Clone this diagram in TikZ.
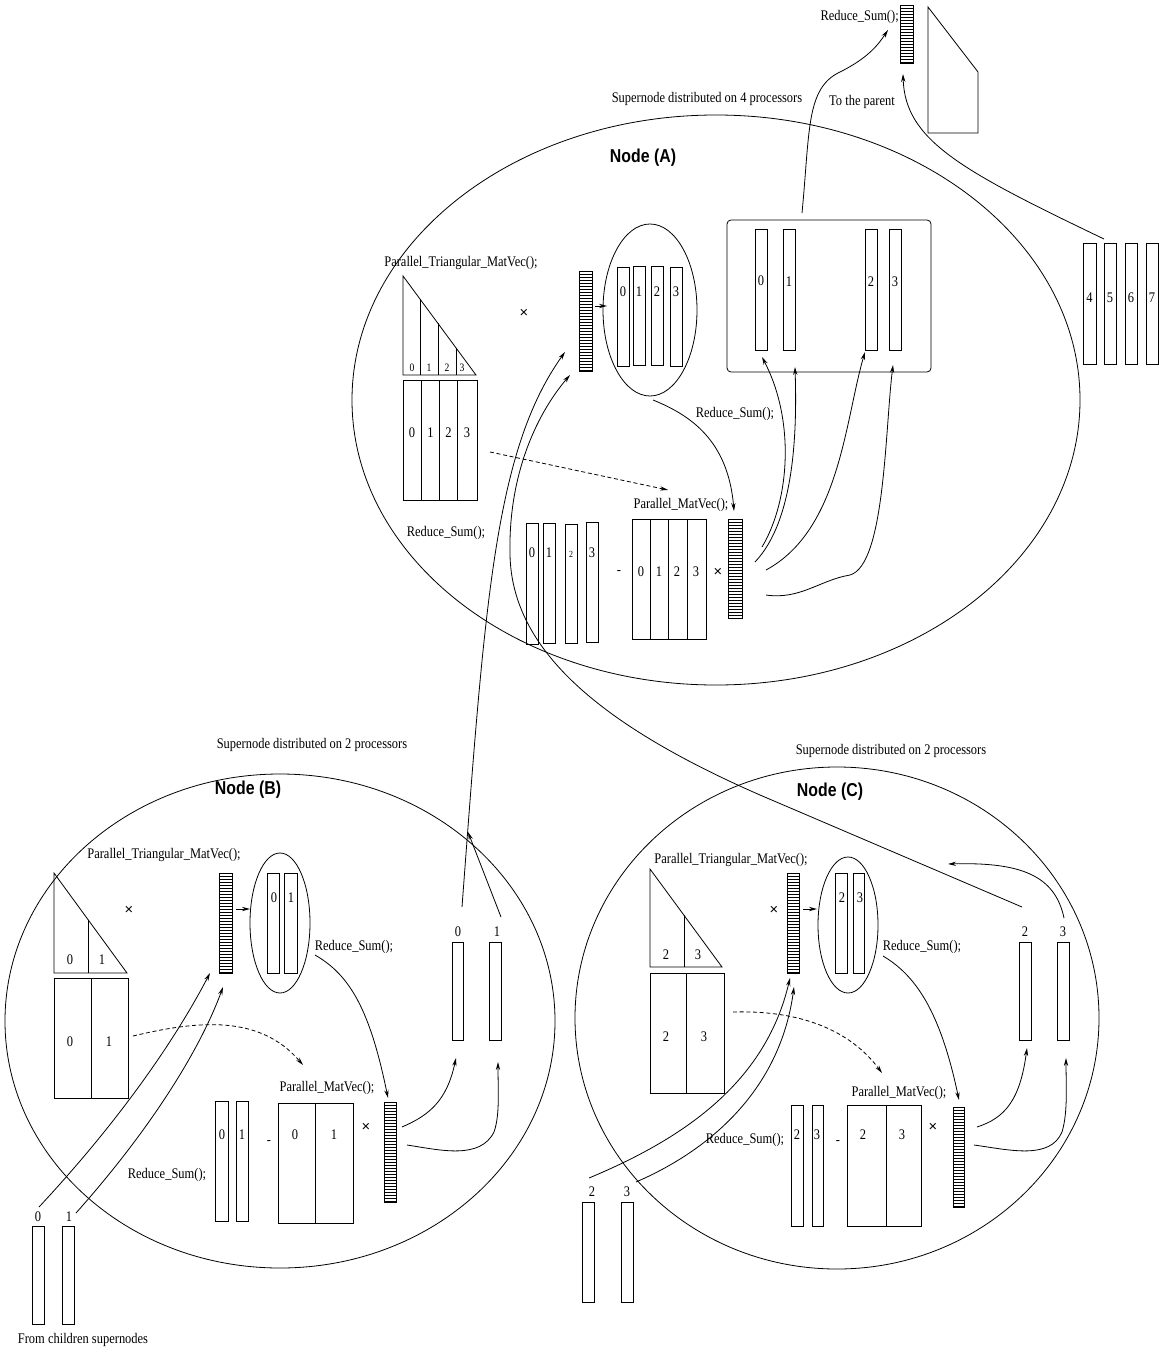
\documentclass[tikz,border=0pt]{standalone}
\usepackage{fontspec}
\setmainfont{Liberation Serif}[FakeStretch=0.85]
\newfontfamily\titlefont{Liberation Sans}[FakeStretch=0.85]
\newfontfamily\timesfont{Liberation Sans}
\usetikzlibrary{arrows.meta}
\tikzset{
  ln/.style={line width=0.6pt},
  arr/.style={ln, -{Stealth[length=6pt,width=3.2pt]}},
  dsh/.style={arr, dash pattern=on 3pt off 2pt},
  lbl/.style={font=\fontsize{11}{12}\selectfont, inner sep=0pt},
  slbl/.style={font=\fontsize{8.5}{9}\selectfont, inner sep=0pt},
  tlbl/.style={font=\fontsize{7}{8}\selectfont, inner sep=0pt},
  xlbl/.style={font=\timesfont\fontsize{11}{12}\selectfont, inner sep=0pt},
  ttl/.style={font=\titlefont\bfseries\fontsize{14}{16}\selectfont, inner sep=0pt},
}
\newcommand\hatchvec[4]{%
  \draw[ln] (#1,#2) rectangle (#3,#4);
  \pgfmathtruncatemacro\hvn{floor((#4-#2-1)/3)}%
  \foreach \k in {1,...,\hvn} {\draw[line width=0.4pt] (#1,#2+3*\k) -- (#3,#2+3*\k);}
}
\newcommand\plainvec[4]{\draw[ln] (#1,#2) rectangle (#3,#4);}
\begin{document}
\begin{tikzpicture}[x=0.75pt,y=-0.75pt]
\useasboundingbox (0,0) rectangle (1159,1352);

% ================= TOP (parent) =================
\node[lbl, anchor=east] (rsTop) at (899,17) {Reduce\_Sum();};
\hatchvec{900}{5}{913}{63}
\draw[ln] (928,7) -- (978,72) -- (978,133) -- (928,133) -- cycle;
\node[lbl] (supA) at (707,99) {Supernode distributed on 4 processors};
\node[lbl] (toPar) at (862,102) {To the parent};
\coordinate (boxTop) at (802,213);
\coordinate (parTipA) at (888,30);
\draw[arr] (boxTop) .. controls (810,130) and (806,88) .. (840,72) .. controls (868,58) and (878,45) .. (parTipA);
\coordinate (fourTop) at (1104,239);
\coordinate (parTipB) at (903,74);
\draw[arr] (fourTop) .. controls (960,170) and (905,140) .. (parTipB);

% ================= NODE A =================
\draw[ln] (716,400) ellipse [x radius=364, y radius=285];
\node[ttl] (nodeA) at (643,158) {Node (A)};
\node[lbl] (ptmA) at (461,263) {Parallel\_Triangular\_MatVec();};
\draw[ln] (403,276) -- (403,375) -- (476,375) -- cycle;
\foreach \xx in {420,438,456} {\draw[ln] (\xx,{276+(\xx-403)*1.356}) -- (\xx,375);}
\node[slbl] at (412,368) {0};
\node[slbl] at (429,368) {1};
\node[slbl] at (447,368) {2};
\node[slbl] at (462,368) {3};
\draw[ln] (403,380) rectangle (477,500);
\foreach \xx in {421.5,439.5,457.5} {\draw[ln] (\xx,380) -- (\xx,500);}
\node[lbl] at (412,433) {0};
\node[lbl] at (430.5,433) {1};
\node[lbl] at (448.5,433) {2};
\node[lbl] at (467,433) {3};
\node[xlbl] (xA1) at (524,313) {×};
\hatchvec{579}{271}{592}{371}
\coordinate (hA1) at (595,306);
\coordinate (eA1) at (607,306);
\draw[arr] (hA1) -- (eA1);
\draw[ln] (650,310) ellipse [x radius=47, y radius=86];
\plainvec{617}{267}{629}{366}
\plainvec{633}{266}{645}{365}
\plainvec{651}{266}{663}{365}
\plainvec{670}{267}{682}{366}
\node[lbl] at (623,292) {0};
\node[lbl] at (639,292) {1};
\node[lbl] at (657,292) {2};
\node[lbl] at (676,292) {3};
\node[lbl] (rsA1) at (735,414) {Reduce\_Sum();};
\coordinate (eAbot) at (653,400);
\coordinate (hA2top) at (734,511);
\draw[arr] (eAbot) .. controls (690,415) and (728,440) .. (hA2top);
\coordinate (dA1) at (490,452);
\coordinate (dA2) at (668,490);
\draw[dsh] (dA1) -- (dA2);
\node[lbl] (pmA) at (681,505) {Parallel\_MatVec();};
\draw[ln] (632,519) rectangle (706,639);
\foreach \xx in {650.5,668.5,687} {\draw[ln] (\xx,519) -- (\xx,639);}
\node[lbl] at (641,572) {0};
\node[lbl] at (659,572) {1};
\node[lbl] at (677,572) {2};
\node[lbl] at (696,572) {3};
\node[xlbl] (xA2) at (718,572) {×};
\hatchvec{728}{519}{742}{618}
\node[lbl] (mA) at (619,572) {-};
\plainvec{526}{523}{538}{644}
\plainvec{543}{523}{555}{643}
\plainvec{565}{524}{577}{643}
\plainvec{586}{522}{598}{642}
\node[lbl] at (532,553) {0};
\node[lbl] at (549,553) {1};
\node[tlbl] at (571,554) {2};
\node[lbl] at (592,553) {3};
\node[lbl] (rsA2) at (446,533) {Reduce\_Sum();};
% rounded box
\draw[ln, rounded corners=3pt] (727,220) rectangle (931,372);
\plainvec{755}{229}{767}{350}
\plainvec{783}{229}{795}{350}
\plainvec{865}{229}{877}{350}
\plainvec{889}{229}{901}{350}
\node[lbl] at (761,281) {0};
\node[lbl] at (789,282) {1};
\node[lbl] at (871,282) {2};
\node[lbl] at (895,282) {3};
% curves to box vectors
\coordinate (a1s) at (762,547);
\coordinate (a2s) at (755,562);
\coordinate (a3s) at (766,570);
\coordinate (a4s) at (766,595);
\coordinate (b1t) at (762,357);
\coordinate (b2t) at (795,367);
\coordinate (b3t) at (865,352);
\coordinate (b4t) at (893,365);
\draw[arr] (a1s) .. controls (790,500) and (795,420) .. (b1t);
\draw[arr] (a2s) .. controls (795,520) and (797,430) .. (b2t);
\draw[arr] (a3s) .. controls (840,530) and (845,420) .. (b3t);
\draw[arr] (a4s) .. controls (800,600) and (820,580) .. (850,575) .. controls (885,565) and (885,430) .. (b4t);
% vectors 4..7
\plainvec{1083}{243}{1096}{364}
\plainvec{1104}{243}{1116}{364}
\plainvec{1125}{243}{1137}{364}
\plainvec{1146}{243}{1158}{364}
\node[lbl] at (1089.5,298) {4};
\node[lbl] at (1110,298) {5};
\node[lbl] at (1131,298) {6};
\node[lbl] at (1152,298) {7};

% ================= long connectors B,C -> A =================
\coordinate (bZeroTop) at (462,907);
\coordinate (hA1tipB) at (565,352);
\draw[arr] (bZeroTop) .. controls (485,600) and (495,450) .. (hA1tipB);
\coordinate (bOneTop) at (501,917);
\coordinate (bOneTip) at (468,832);
\draw[arr] (bOneTop) -- (bOneTip);
\coordinate (cTwoTop) at (1022,907);
\coordinate (hA1tipC) at (570,375);
\draw[arr] (cTwoTop) -- (760,795) .. controls (600,725) and (512,650) .. (510,555) .. controls (508,470) and (540,410) .. (hA1tipC);
\coordinate (cThreeTop) at (1064,918);
\coordinate (cThreeTip) at (948,864);
\draw[arr] (cThreeTop) .. controls (1055,875) and (1020,862) .. (cThreeTip);

% ================= NODE B =================
\draw[ln] (280,1021) ellipse [x radius=275, y radius=247];
\node[lbl] (supB) at (312,745) {Supernode distributed on 2 processors};
\node[ttl] (nodeB) at (248,790) {Node (B)};
\node[lbl] (ptmB) at (164,855) {Parallel\_Triangular\_MatVec();};
\draw[ln] (54,873) -- (54,973) -- (127,973) -- cycle;
\draw[ln] (88,919.6) -- (88,973);
\node[lbl] at (70,960) {0};
\node[lbl] at (102,960) {1};
\draw[ln] (54,978) rectangle (128,1098);
\draw[ln] (91,978) -- (91,1098);
\node[lbl] at (70,1042) {0};
\node[lbl] at (109,1042) {1};
\node[xlbl] (xB1) at (129,910) {×};
\hatchvec{219}{873}{232}{973}
\coordinate (hB1) at (236,909);
\coordinate (eB1) at (250,909);
\draw[arr] (hB1) -- (eB1);
\draw[ln] (280,923) ellipse [x radius=30, y radius=70];
\plainvec{267}{873}{279}{973}
\plainvec{284}{873}{297}{973}
\node[lbl] at (274,898) {0};
\node[lbl] at (291,898) {1};
\node[lbl] (rsB1) at (354,947) {Reduce\_Sum();};
\coordinate (eBbot) at (315,955);
\coordinate (hB2top) at (388,1098);
\draw[arr] (eBbot) .. controls (350,975) and (370,1010) .. (hB2top);
\coordinate (dB1) at (133,1036);
\coordinate (dB2) at (303,1065);
\draw[dsh] (dB1) .. controls (200,1020) and (260,1015) .. (dB2);
\node[lbl] (pmB) at (327,1088) {Parallel\_MatVec();};
\draw[ln] (278,1103) rectangle (353,1223);
\draw[ln] (315,1103) -- (315,1223);
\node[lbl] at (295,1135) {0};
\node[lbl] at (334,1135) {1};
\node[xlbl] (xB2) at (366,1127) {×};
\hatchvec{384}{1102}{396}{1202}
\plainvec{215}{1101}{228}{1221}
\plainvec{236}{1101}{248}{1221}
\node[lbl] at (222,1135) {0};
\node[lbl] at (242,1135) {1};
\node[lbl] (mB) at (269,1142) {-};
\node[lbl] (rsB2) at (167,1175) {Reduce\_Sum();};
\coordinate (bc1s) at (402,1127);
\coordinate (bc2s) at (407,1145);
\coordinate (bc1t) at (456,1058);
\coordinate (bc2t) at (498,1062);
\draw[arr] (bc1s) .. controls (430,1115) and (447,1100) .. (bc1t);
\draw[arr] (bc2s) .. controls (440,1150) and (480,1160) .. (494,1132) .. controls (500,1115) and (498,1090) .. (bc2t);
\plainvec{452}{942}{463}{1040}
\plainvec{489}{942}{501}{1040}
\node[lbl] at (458,932) {0};
\node[lbl] at (497,932) {1};
% children of B
\plainvec{32}{1226}{44}{1324}
\plainvec{62}{1226}{74}{1324}
\node[lbl] at (38,1217) {0};
\node[lbl] at (69,1217) {1};
\node[lbl] (fromCh) at (83,1340) {From children supernodes};
\coordinate (chB0) at (39,1207);
\coordinate (chB1) at (76,1213);
\coordinate (hB1tipA) at (210,973);
\coordinate (hB1tipB) at (223,987);
\draw[arr] (chB0) .. controls (120,1120) and (175,1040) .. (hB1tipA);
\draw[arr] (chB1) .. controls (150,1130) and (200,1050) .. (hB1tipB);

% ================= NODE C =================
\draw[ln] (837,1018) ellipse [x radius=262, y radius=251];
\node[lbl] (supC) at (891,751) {Supernode distributed on 2 processors};
\node[ttl] (nodeC) at (830,792) {Node (C)};
\node[lbl] (ptmC) at (731,860) {Parallel\_Triangular\_MatVec();};
\draw[ln] (650,869) -- (650,967) -- (722,967) -- cycle;
\draw[ln] (684,915) -- (684,967);
\node[lbl] at (666,955) {2};
\node[lbl] at (698,955) {3};
\draw[ln] (650,973) rectangle (724,1093);
\draw[ln] (686,973) -- (686,1093);
\node[lbl] at (666,1037) {2};
\node[lbl] at (704,1037) {3};
\node[xlbl] (xC1) at (774,910) {×};
\hatchvec{787}{873}{799}{973}
\coordinate (hC1) at (803,909);
\coordinate (eC1) at (817,909);
\draw[arr] (hC1) -- (eC1);
\draw[ln] (848,925) ellipse [x radius=30, y radius=68];
\plainvec{835}{873}{847}{973}
\plainvec{853}{873}{864}{973}
\node[lbl] at (842,898) {2};
\node[lbl] at (860,898) {3};
\node[lbl] (rsC1) at (922,947) {Reduce\_Sum();};
\coordinate (eCbot) at (883,956);
\coordinate (hC2top) at (959,1100);
\draw[arr] (eCbot) .. controls (915,975) and (940,1010) .. (hC2top);
\coordinate (dC1) at (733,1012);
\coordinate (dC2) at (882,1073);
\draw[dsh] (dC1) .. controls (800,1010) and (850,1030) .. (dC2);
\node[lbl] (pmC) at (899,1093) {Parallel\_MatVec();};
\draw[ln] (847,1105) rectangle (921,1226);
\draw[ln] (886,1105) -- (886,1226);
\node[lbl] at (863,1135) {2};
\node[lbl] at (902,1135) {3};
\node[xlbl] (xC2) at (933,1127) {×};
\hatchvec{953}{1107}{964}{1207}
\plainvec{791}{1105}{803}{1226}
\plainvec{812}{1105}{823}{1226}
\node[lbl] at (797,1135) {2};
\node[lbl] at (817,1135) {3};
\node[lbl] (mC) at (838,1142) {-};
\node[lbl] (rsC2) at (745,1140) {Reduce\_Sum();};
\coordinate (cc1s) at (977,1127);
\coordinate (cc2s) at (974,1145);
\coordinate (cc1t) at (1027,1048);
\coordinate (cc2t) at (1066,1058);
\draw[arr] (cc1s) .. controls (1005,1118) and (1020,1100) .. (cc1t);
\draw[arr] (cc2s) .. controls (1010,1150) and (1050,1160) .. (1062,1132) .. controls (1068,1112) and (1066,1085) .. (cc2t);
\plainvec{1019}{942}{1031}{1040}
\plainvec{1057}{942}{1069}{1040}
\node[lbl] at (1025,932) {2};
\node[lbl] at (1063,932) {3};
% children of C
\plainvec{582}{1202}{594}{1302}
\plainvec{621}{1202}{633}{1302}
\node[lbl] at (592,1192) {2};
\node[lbl] at (627,1192) {3};
\coordinate (chC0) at (589,1178);
\coordinate (chC1) at (636,1182);
\coordinate (hC1tipA) at (790,978);
\coordinate (hC1tipB) at (794,987);
\draw[arr] (chC0) .. controls (680,1140) and (765,1085) .. (hC1tipA);
\draw[arr] (chC1) .. controls (710,1150) and (780,1090) .. (hC1tipB);
\end{tikzpicture}
\end{document}
